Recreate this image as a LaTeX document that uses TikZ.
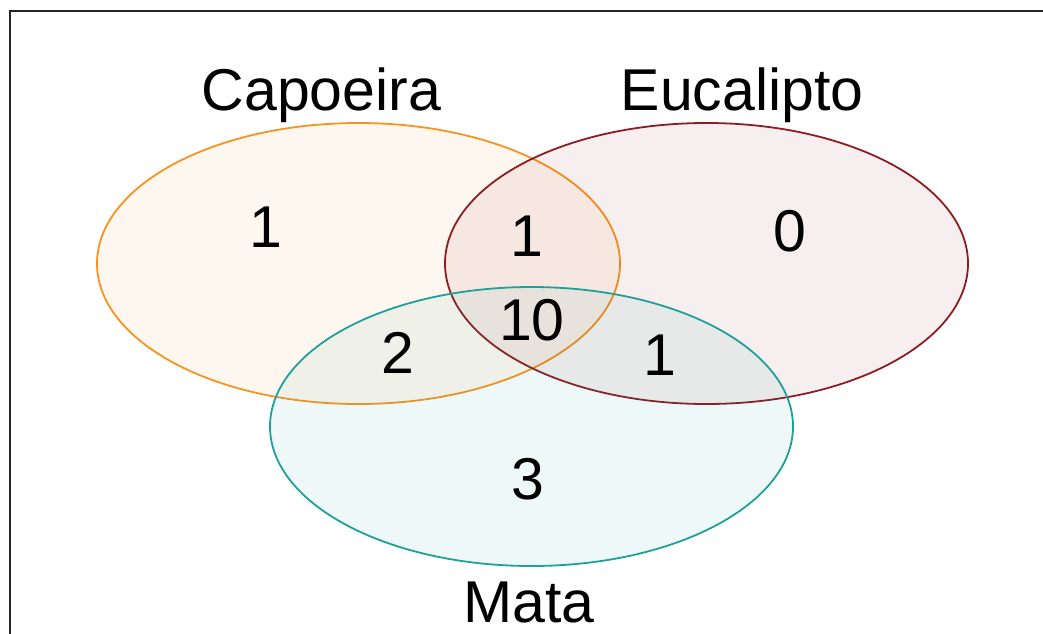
\documentclass[tikz,border=0pt]{standalone}
\usepackage{fontspec}
\setmainfont{Liberation Sans}
\usepackage{xcolor}
\usepackage{tikz}
\usetikzlibrary{shapes.geometric, positioning}

\definecolor{capcol}{RGB}{247,147,30}
\definecolor{eucol}{RGB}{139,30,35}
\definecolor{matcol}{RGB}{30,160,155}

\tikzset{
  setset/.style={draw=#1, fill=#1, fill opacity=0.07, line width=1.8pt, ellipse, inner sep=0pt, minimum width=523pt, minimum height=281pt},
  count/.style={font=\fontsize{59}{61}\selectfont, inner sep=0pt},
  setname/.style={font=\fontsize{59}{61}\selectfont, inner sep=0pt, anchor=base}
}

\begin{document}
\begin{tikzpicture}[x=1pt, y=-1pt]
        \useasboundingbox (0,0) rectangle (1043,633);
        % Frame
        \draw[line width=2pt, black!85] (9.5,700) -- (9.5,10.5) -- (1100,10.5);

        % Sets
        \node[setset=capcol] (capoeira) at (358.5,263.5) {};
        \node[setset=eucol] (eucalipto) at (706.5,263.5) {};
        \node[setset=matcol, minimum height=279pt] (mata) at (531.5,426.5) {};

        % Set names
        \node[setname] (capname) at (321.5,110) {Capoeira};
        \node[setname] (euname) at (742,110) {Eucalipto};
        \node[setname] (matname) at (529,622) {Mata};

        % Counts
        \node[count] (onlycap) at (266,227) {1};
        \node[count] (capeu) at (527,236) {1};
        \node[count] (onlyeu) at (790,231) {0};
        \node[count] (allsets) at (532,320) {10};
        \node[count] (capmat) at (398,353) {2};
        \node[count] (eumat) at (660,355) {1};
        \node[count] (onlymat) at (528,479) {3};
    \end{tikzpicture}
\end{document}
